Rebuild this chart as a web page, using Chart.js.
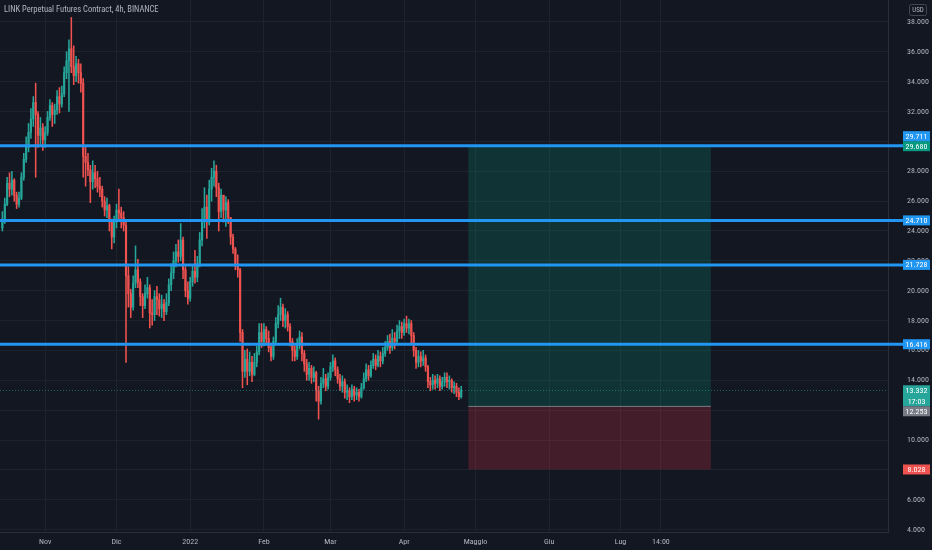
<!DOCTYPE html>
<html><head><meta charset="utf-8">
<script src="https://cdn.jsdelivr.net/npm/chart.js@4.4.1/dist/chart.umd.min.js"></script>
<style>html,body{margin:0;padding:0;background:#131722;overflow:hidden}#wrap{width:932px;height:550px;position:relative}canvas{display:block}</style>
</head><body><div id="wrap"><canvas id="c" width="932" height="550" style="width:932px;height:550px"></canvas></div>
<script>
const chartTitle = 'LINK Perpetual Futures Contract, 4h, BINANCE';
const currency = 'USD';
const firstOpen = 24.2;
const closes = [
24.6,25.8,27.2,26.8,27.4,26.4,25.8,26.2,27.6,28.8,
29.6,30.6,31.5,32.6,31.8,30.4,30.9,30.1,30.6,31.6,
32.4,31.8,32.1,33.0,32.5,33.2,34.6,35.4,36.2,35.0,
34.4,35.2,34.6,33.9,29.0,28.6,28.1,27.3,27.9,27.5,
27.0,26.8,26.0,25.4,25.7,24.6,23.6,24.6,25.4,25.2,
24.9,24.4,21.0,19.8,18.9,20.5,21.4,20.6,19.6,19.0,
19.8,20.2,18.5,18.4,19.6,19.4,18.8,19.1,18.6,19.2,
20.4,21.2,22.0,22.6,22.3,23.4,21.4,20.0,19.5,20.6,
21.3,20.9,21.8,23.4,24.8,25.6,24.6,26.8,27.6,28.0,
26.9,25.3,26.4,25.4,25.9,24.9,23.6,22.8,21.8,21.4,
17.2,14.6,15.4,14.6,15.2,14.4,15.2,15.9,17.2,16.6,
17.4,16.8,16.2,15.6,16.6,17.8,18.4,18.9,18.0,18.4,
17.6,16.6,16.0,15.6,16.4,16.9,15.8,15.1,14.4,14.8,
14.2,14.5,13.3,12.6,13.8,14.1,13.6,14.2,14.9,15.3,
14.7,14.1,13.6,13.9,13.2,13.3,12.9,13.4,13.0,13.2,
12.9,13.5,14.1,14.7,14.3,15.0,15.4,15.0,15.6,15.3,
15.8,16.2,16.6,16.2,16.8,16.6,17.3,17.6,17.2,17.8,
17.5,17.8,17.0,16.0,15.2,15.6,15.3,15.5,14.9,13.9,
13.7,14.0,13.8,14.1,13.6,13.9,14.2,13.9,14.0,13.5,
13.6,13.2,12.9,13.332];
const highs = [
25.3,26.2,27.6,27.9,28.0,27.5,26.6,26.6,27.9,29.2,
30.3,31.2,32.2,33.0,33.9,32.0,31.6,31.2,31.0,32.0,
32.8,32.6,32.5,33.4,33.6,33.7,35.0,36.0,36.8,38.3,
36.4,35.7,35.5,35.2,34.2,29.6,29.2,28.4,28.7,28.4,
28.0,27.6,27.0,26.3,26.2,25.8,24.8,25.0,25.8,26.8,
25.6,25.3,24.6,21.6,20.1,21.0,23.0,22.1,20.8,19.8,
20.4,20.9,20.4,19.4,20.0,20.3,19.8,19.7,19.4,19.8,
20.8,21.8,22.6,23.1,23.4,24.5,23.6,21.6,20.6,20.9,
21.7,22.7,22.3,23.9,25.5,26.9,26.4,27.4,28.2,28.7,
28.4,27.2,26.8,26.3,26.3,26.1,24.9,23.8,22.9,22.4,
21.5,17.4,16.0,16.1,15.9,15.6,15.8,16.3,17.8,17.8,
17.8,17.6,17.3,16.5,16.9,18.2,19.0,19.5,19.1,18.8,
18.6,17.8,16.8,16.3,16.8,17.3,17.2,16.0,15.4,15.2,
15.0,14.9,14.6,13.6,14.2,14.8,14.4,14.5,15.2,15.7,
15.5,14.9,14.4,14.3,14.1,13.7,13.5,13.7,13.6,13.5,
13.4,13.8,14.5,15.1,15.0,15.3,15.8,15.7,16.0,15.9,
16.2,16.6,17.0,17.1,17.4,17.2,17.7,18.0,17.9,18.1,
18.3,18.1,18.0,17.2,16.2,16.0,15.9,16.0,15.7,15.0,
14.2,14.4,14.3,14.4,14.3,14.2,14.5,14.5,14.3,14.1,
13.9,13.8,13.5,13.6];
const lows = [
24.0,24.5,25.7,26.3,26.4,26.0,25.5,25.6,26.1,27.4,
28.6,29.3,30.2,31.0,27.6,29.6,29.8,29.4,29.6,30.4,
31.4,31.0,31.2,31.8,31.9,32.3,33.0,34.2,32.0,34.6,
33.8,34.0,33.9,33.3,27.6,27.0,27.7,25.9,26.8,26.9,
26.6,26.3,25.6,25.0,24.9,24.0,22.8,23.2,24.2,24.7,
24.2,24.0,15.2,18.9,18.2,18.7,20.2,20.2,19.0,18.2,
18.8,19.5,17.5,17.7,18.0,18.4,18.3,18.2,18.0,18.4,
19.0,20.0,20.8,21.6,21.9,22.0,20.8,19.6,19.1,19.3,
20.3,20.5,20.6,21.6,23.0,24.2,23.5,24.4,26.0,27.0,
26.3,24.0,24.9,24.6,24.3,24.5,23.1,22.5,21.4,20.9,
16.6,13.5,14.2,13.7,14.3,13.9,14.3,14.9,15.7,16.2,
16.3,16.4,15.9,15.3,15.4,16.5,17.5,18.0,17.6,17.5,
17.3,16.3,15.3,15.3,15.4,16.1,15.3,14.6,14.0,14.0,
13.8,13.9,12.6,11.4,12.4,13.5,13.3,13.4,14.0,14.6,
14.3,13.8,13.3,13.2,12.8,12.7,12.5,12.7,12.6,12.7,
12.6,12.8,13.4,13.9,14.0,14.2,14.8,14.7,14.9,14.9,
15.1,15.6,16.0,15.8,16.0,16.1,16.4,16.8,16.8,17.0,
17.2,17.1,16.5,15.6,14.8,14.9,14.9,15.0,14.6,13.5,
13.3,13.4,13.4,13.5,13.3,13.4,13.6,13.5,13.4,13.2,
13.1,12.9,12.7,12.8];
const startDay = 1;
const xTickDays = [19,49,80,111,139,170,200,231,261,278];
const xTickLabels = ['Nov','Dic','2022','Feb','Mar','Apr','Maggio','Giu','Lug','14:00'];
const levelPrices = [29.711, 24.710, 21.728, 16.416];
const positionStartDay = 197, positionEndDay = 299;
const targetPrice = 29.680, entryPrice = 12.253, stopPrice = 8.028;
const lastPrice = 13.332, countdown = '17:03';
const xMinDay = 0, xMaxDay = 373.5;
const yMin = 3.84, yMax = 39.47, yStep = 2;

const BG = '#131722', TXT = '#b2b5be', GRID = '#1e222d';
const UP = '#26a69a', DN = '#ef5350', BLUE = '#2196f3';
const FONT = "'Liberation Sans Narrow','Roboto Condensed','DejaVu Sans Condensed',Roboto,sans-serif";

const opens = closes.map((c, i) => i === 0 ? firstOpen : closes[i - 1]);
const colors = closes.map((c, i) => c >= opens[i] ? UP : DN);
const wickData = closes.map((c, i) => ({x: i + startDay, y: [Math.min(lows[i], opens[i], c), Math.max(highs[i], opens[i], c)]}));
const bodyData = closes.map((c, i) => ({x: i + startDay, y: [opens[i], c]}));

const bgPlugin = {
  id: 'bg',
  beforeDraw(chart) {
    const ctx = chart.ctx;
    ctx.save(); ctx.fillStyle = BG; ctx.fillRect(0, 0, chart.width, chart.height); ctx.restore();
  }
};

const positionPlugin = {
  id: 'position',
  beforeDatasetsDraw(chart) {
    const {ctx, chartArea: a, scales: {x, y}} = chart;
    const x0 = x.getPixelForValue(positionStartDay), x1 = x.getPixelForValue(positionEndDay);
    const yt = y.getPixelForValue(targetPrice), ye = y.getPixelForValue(entryPrice), ys = y.getPixelForValue(stopPrice);
    ctx.save();
    ctx.beginPath(); ctx.rect(a.left, a.top, a.width, a.height); ctx.clip();
    ctx.fillStyle = 'rgba(8,153,129,0.22)'; ctx.fillRect(x0, yt, x1 - x0, ye - yt);
    ctx.fillStyle = 'rgba(242,54,69,0.22)'; ctx.fillRect(x0, ye, x1 - x0, ys - ye);
    ctx.strokeStyle = '#787b86'; ctx.lineWidth = 1;
    ctx.beginPath(); ctx.moveTo(x0, ye); ctx.lineTo(x1, ye); ctx.stroke();
    ctx.restore();
  },
  afterDatasetsDraw(chart) {
    const {ctx, chartArea: a, scales: {y}} = chart;
    ctx.save();
    const yl = Math.round(y.getPixelForValue(lastPrice)) + 0.5;
    ctx.strokeStyle = 'rgba(38,166,154,0.55)'; ctx.lineWidth = 1; ctx.setLineDash([1, 2]);
    ctx.beginPath(); ctx.moveTo(a.left, yl); ctx.lineTo(a.right, yl); ctx.stroke();
    ctx.setLineDash([]);
    ctx.strokeStyle = BLUE; ctx.lineWidth = 3;
    levelPrices.forEach(p => {
      const yy = y.getPixelForValue(p);
      ctx.beginPath(); ctx.moveTo(a.left, yy); ctx.lineTo(a.right + 16, yy); ctx.stroke();
    });
    ctx.restore();
  },
  afterDraw(chart) {
    const {ctx, chartArea: a, scales: {y}} = chart;
    ctx.save();
    ctx.fillStyle = TXT; ctx.font = "8.5px " + FONT; ctx.textBaseline = 'middle'; ctx.textAlign = 'left';
    ctx.fillText(chartTitle, 4, 10);
    ctx.strokeStyle = '#434651'; ctx.lineWidth = 1;
    ctx.beginPath(); ctx.roundRect(909.5, 4.5, 17, 11, 2); ctx.stroke();
    ctx.fillStyle = TXT; ctx.font = "7px " + FONT; ctx.textAlign = 'center';
    ctx.fillText(currency, 918, 10.5);
    const tagX = a.right + 15, tagW = 27, tagH = 10;
    const tags = [
      {v: targetPrice, c: '#089981', t: [targetPrice.toFixed(3)], fixed: true},
      {v: lastPrice, c: UP, t: [lastPrice.toFixed(3), countdown], fixed: true},
      {v: stopPrice, c: DN, t: [stopPrice.toFixed(3)], fixed: true},
      {v: entryPrice, c: '#787b86', t: [entryPrice.toFixed(3)], fixed: false, ref: lastPrice},
      ...levelPrices.map(p => ({v: p, c: BLUE, t: [p.toFixed(3)], fixed: false, ref: p === 29.711 ? targetPrice : null}))
    ];
    tags.forEach(tg => {
      const yy = y.getPixelForValue(tg.v);
      tg.top = yy - tagH / 2; tg.h = tagH * tg.t.length + (tg.t.length > 1 ? 1 : 0);
    });
    tags.filter(tg => !tg.fixed && tg.ref !== null && tg.ref !== undefined).forEach(tg => {
      const f = tags.find(o => o.fixed && o.v === tg.ref);
      if (!f) return;
      if (tg.v > f.v && tg.top + tg.h > f.top) tg.top = f.top - tg.h;
      if (tg.v < f.v && tg.top < f.top + f.h) tg.top = f.top + f.h;
    });
    ctx.font = "8px " + FONT; ctx.textAlign = 'center'; ctx.textBaseline = 'middle';
    tags.forEach(tg => {
      ctx.fillStyle = tg.c; ctx.fillRect(tagX, tg.top, tagW, tg.h);
      ctx.fillStyle = '#ffffff';
      tg.t.forEach((s, k) => ctx.fillText(s, tagX + tagW / 2, tg.top + tagH / 2 + k * (tagH + 1) + 0.5));
    });
    ctx.restore();
  }
};

new Chart(document.getElementById('c'), {
  type: 'bar',
  data: {
    datasets: [
      {data: wickData, backgroundColor: colors, barThickness: 0.9, grouped: false, order: 2},
      {data: bodyData, backgroundColor: colors, barThickness: 1.5, grouped: false, order: 1}
    ]
  },
  options: {
    responsive: false, animation: false, devicePixelRatio: 1,
    layout: {padding: 0},
    plugins: {legend: {display: false}, tooltip: {enabled: false}, title: {display: false}},
    scales: {
      x: {
        type: 'linear', min: xMinDay, max: xMaxDay, offset: false,
        afterBuildTicks: s => { s.ticks = xTickDays.map(v => ({value: v})); },
        afterFit: s => { s.height = 18; s.paddingLeft = 0; s.paddingRight = 0; },
        ticks: {
          autoSkip: false, maxRotation: 0, padding: 5, color: TXT,
          font: {family: FONT, size: 8},
          callback: (v, i) => xTickLabels[i]
        },
        grid: {color: GRID, drawTicks: false, offset: false},
        border: {display: true, color: '#2a2e39'}
      },
      y: {
        position: 'right', min: yMin, max: yMax,
        afterFit: s => { s.width = 44; s.paddingTop = 0; s.paddingBottom = 0; },
        ticks: {
          stepSize: yStep, includeBounds: false, padding: 3, color: TXT,
          font: {family: FONT, size: 8},
          callback: v => v.toFixed(3)
        },
        grid: {color: GRID, drawTicks: true, tickLength: 16, tickColor: 'rgba(0,0,0,0)'},
        border: {display: true, color: '#2a2e39'}
      }
    }
  },
  plugins: [bgPlugin, positionPlugin]
});
</script>
</body></html>
